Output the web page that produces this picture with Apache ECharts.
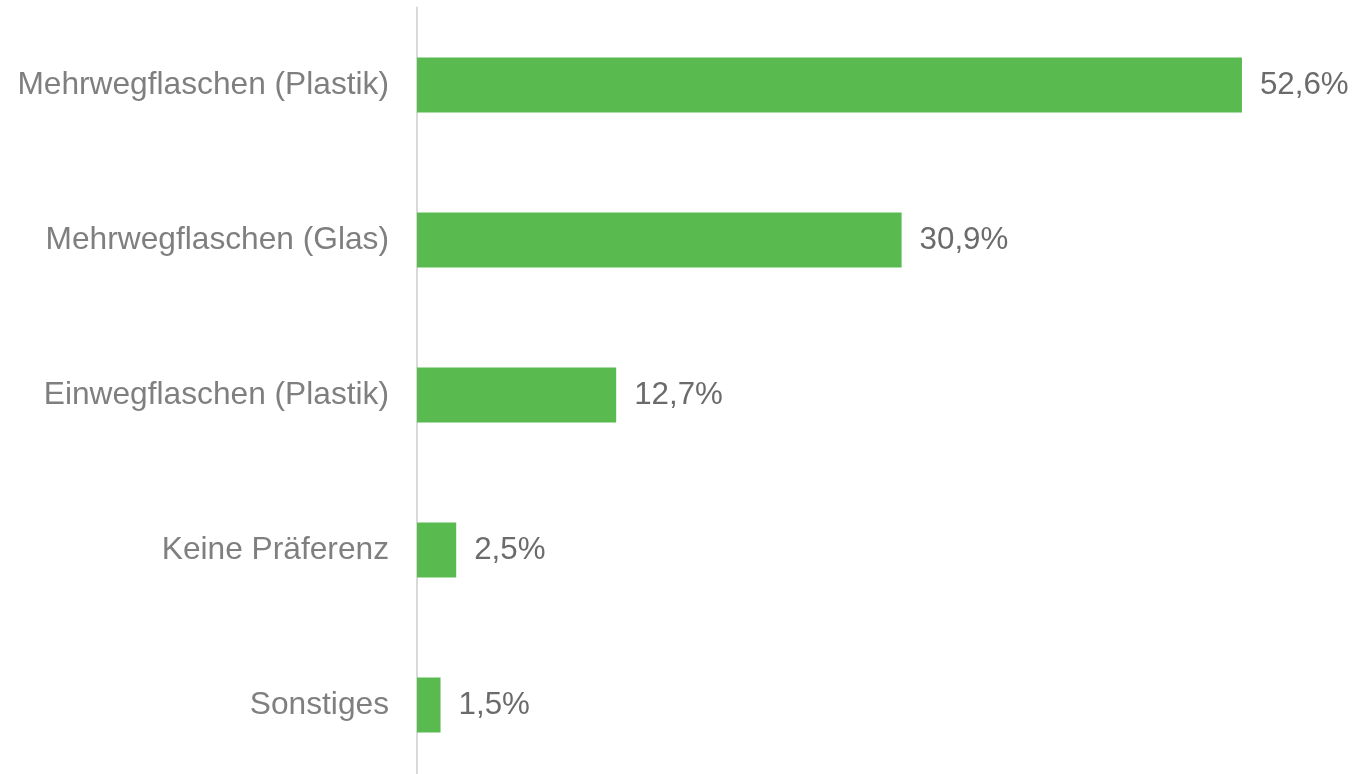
<!DOCTYPE html>
<html>
<head>
<meta charset="utf-8">
<script src="https://cdn.jsdelivr.net/npm/echarts@6/dist/echarts.min.js"></script>
<style>
  html, body { margin: 0; padding: 0; background: #fff; overflow: hidden; }
  #chart { width: 1358px; height: 790px; }
</style>
</head>
<body>
<div id="chart"></div>
<script>
const categories = [
  "Mehrwegflaschen (Plastik)",
  "Mehrwegflaschen (Glas)",
  "Einwegflaschen (Plastik)",
  "Keine Präferenz",
  "Sonstiges"
];
const values = [52.6, 30.9, 12.7, 2.5, 1.5];

// the source image cuts the plot off at the bottom, so the canvas is a bit taller than the window
const chart = echarts.init(document.getElementById("chart"));
chart.setOption({
  animation: false,
  grid: { left: 417, top: 7.5, width: 941, height: 775, containLabel: false },
  xAxis: {
    type: "value",
    min: 0,
    max: 60,
    show: false
  },
  yAxis: {
    type: "category",
    data: categories,
    inverse: true,
    axisLine: { show: true, lineStyle: { color: "#d9d9d9", width: 2 } },
    axisTick: { show: false },
    axisLabel: {
      color: "#7f7f7f",
      fontFamily: "Liberation Sans",
      fontSize: 31.7,
      margin: 28
    }
  },
  series: [
    {
      type: "bar",
      data: values,
      barWidth: 55,
      itemStyle: { color: "#59bb4f" },
      label: {
        show: true,
        position: "right",
        distance: 18,
        color: "#6b6b6b",
        fontFamily: "Liberation Sans",
        fontSize: 31.3,
        formatter: p => p.value.toFixed(1).replace(".", ",") + "%"
      }
    }
  ]
});
</script>
</body>
</html>
